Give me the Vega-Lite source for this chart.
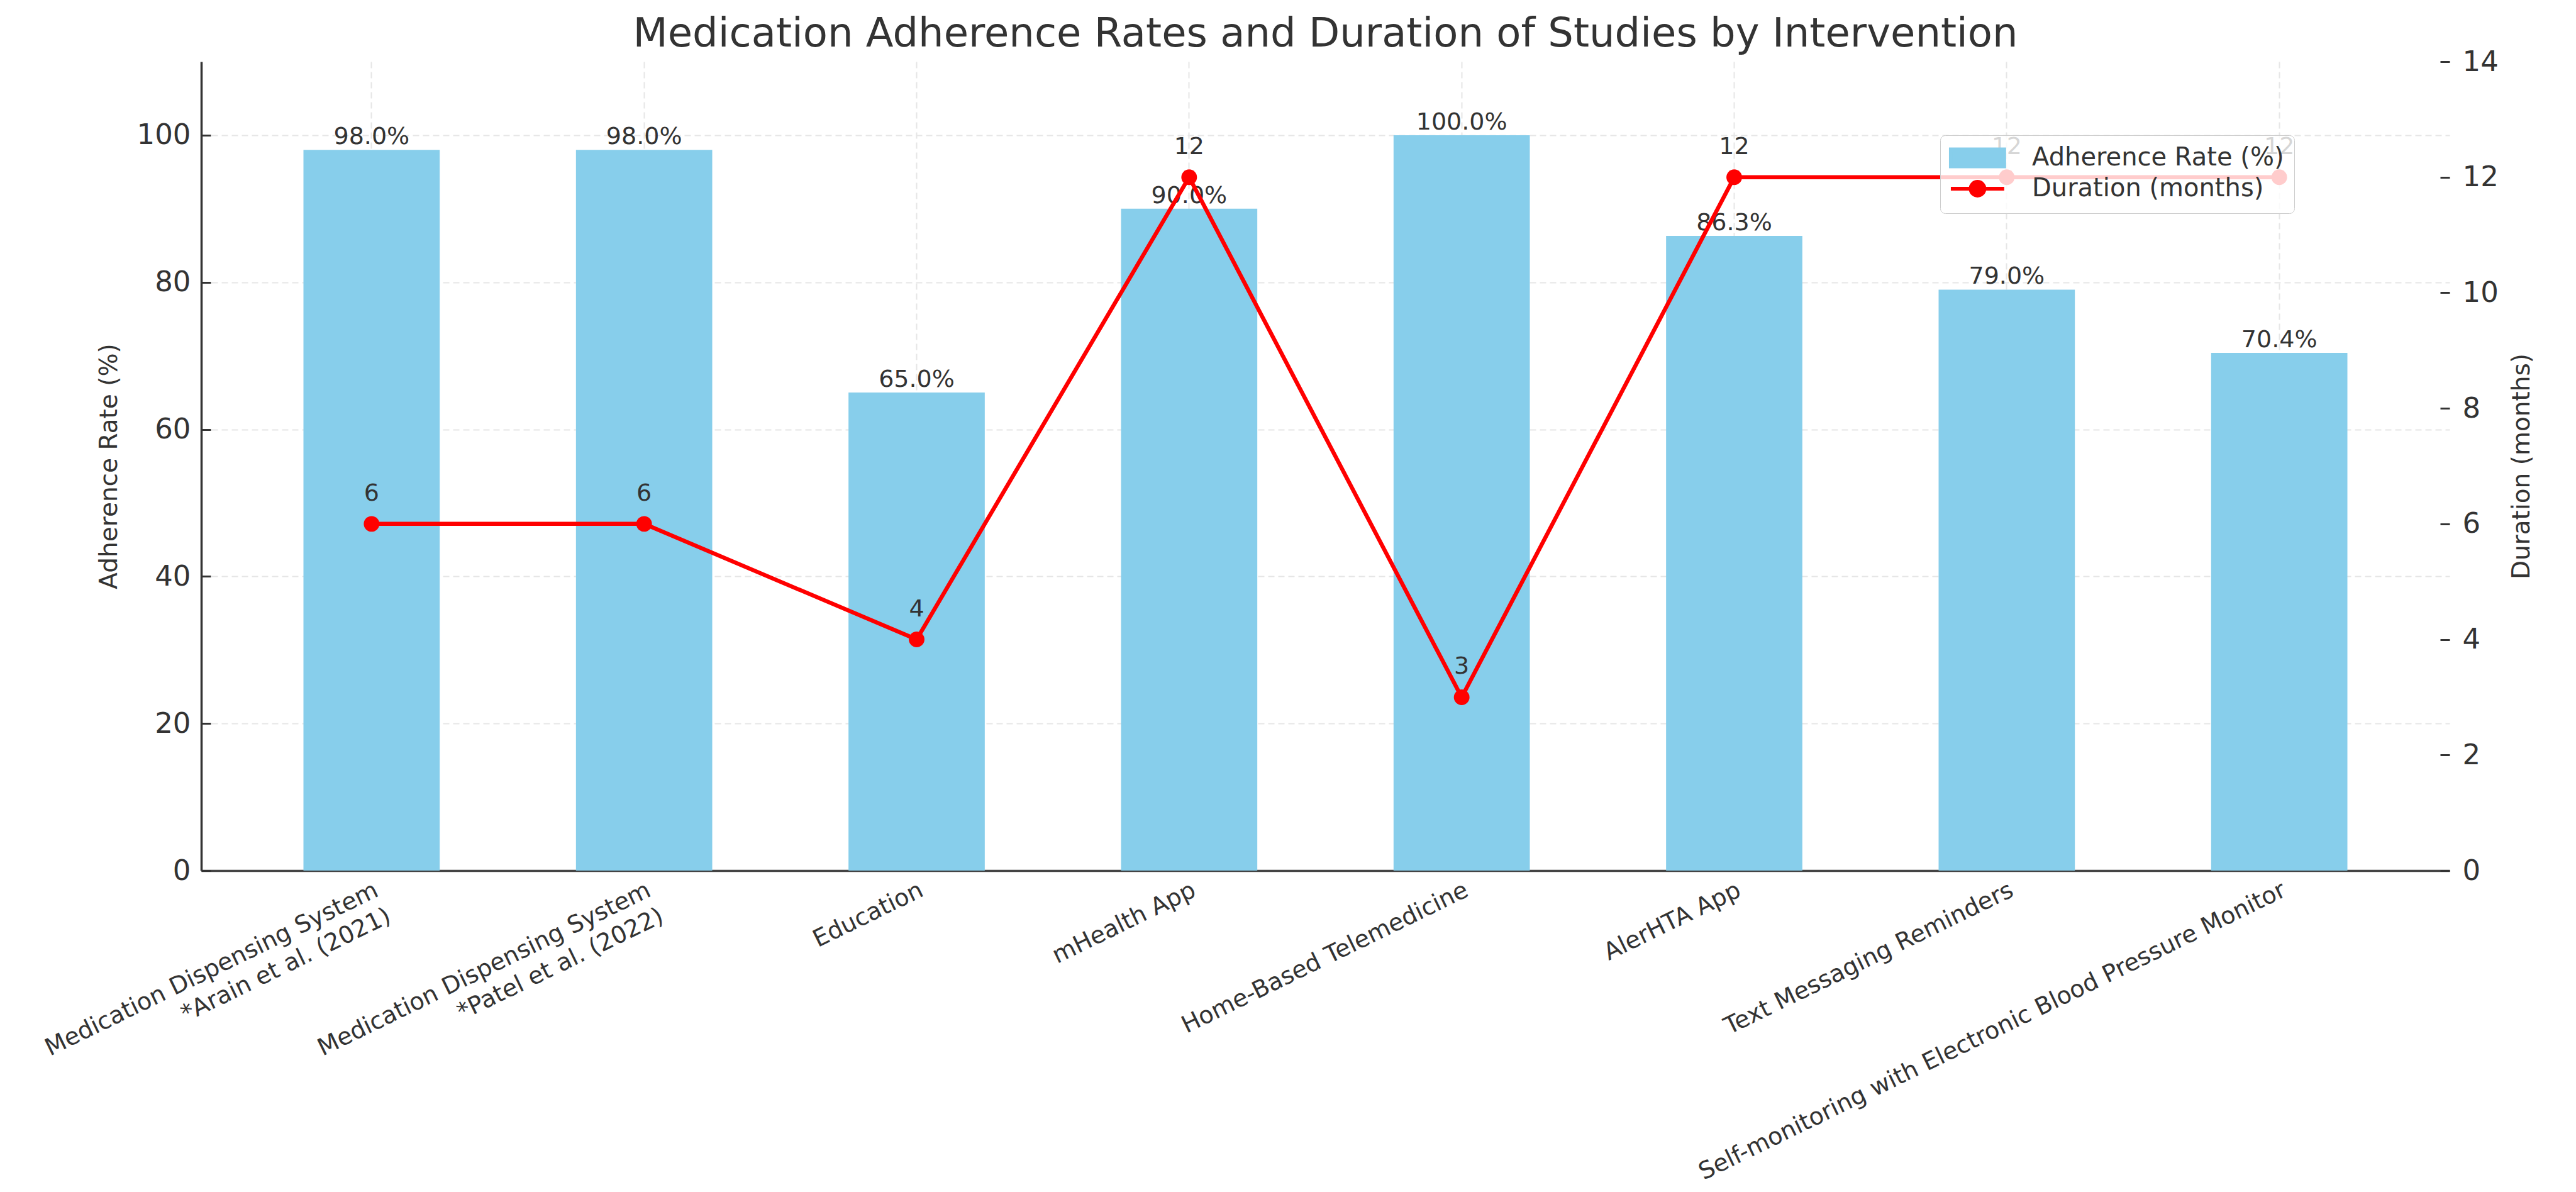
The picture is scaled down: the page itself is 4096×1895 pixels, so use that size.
{
  "$schema": "https://vega.github.io/schema/vega-lite/v6.json",
  "width": 3575,
  "height": 1286,
  "autosize": {"type": "none"},
  "padding": {"left": 320, "top": 98, "right": 201, "bottom": 511},
  "background": "white",
  "title": {
    "text": "Medication Adherence Rates and Duration of Studies by Intervention",
    "fontSize": 64,
    "font": "DejaVu Sans",
    "fontWeight": "normal",
    "color": "#333333",
    "anchor": "middle",
    "frame": "group",
    "baseline": "alphabetic",
    "offset": 20,
    "dy": 82
  },
  "config": {
    "view": {"stroke": null},
    "font": "DejaVu Sans"
  },
  "data": {
    "values": [
      {"intervention": "Medication Dispensing System\n*Arain et al. (2021)", "adherence": 98.0, "duration": 6},
      {"intervention": "Medication Dispensing System\n*Patel et al. (2022)", "adherence": 98.0, "duration": 6},
      {"intervention": "Education", "adherence": 65.0, "duration": 4},
      {"intervention": "mHealth App", "adherence": 90.0, "duration": 12},
      {"intervention": "Home-Based Telemedicine", "adherence": 100.0, "duration": 3},
      {"intervention": "AlerHTA App", "adherence": 86.3, "duration": 12},
      {"intervention": "Text Messaging Reminders", "adherence": 79.0, "duration": 12},
      {"intervention": "Self-monitoring with Electronic Blood Pressure Monitor", "adherence": 70.4, "duration": 12}
    ]
  },
  "encoding": {
    "x": {
      "field": "intervention",
      "type": "nominal",
      "sort": null,
      "scale": {"paddingInner": 0.5, "paddingOuter": 0.375},
      "axis": {
        "title": null,
        "labelAngle": -26,
        "labelAlign": "right",
        "labelBaseline": "top",
        "labelFontSize": 38,
        "labelColor": "#333333",
        "labelLimit": 0,
        "labelOverlap": false,
        "labelFlush": false,
        "labelLineHeight": 46,
        "labelExpr": "split(datum.label, '\\n')",
        "labelPadding": 28,
        "tickSize": -16,
        "tickWidth": 3,
        "tickColor": "#333333",
        "domainColor": "#444444",
        "domainWidth": 3.5,
        "grid": true,
        "gridColor": "#e6e6e6",
        "gridDash": [10, 6],
        "gridWidth": 2
      }
    }
  },
  "layer": [
    {
      "encoding": {
        "y": {
          "field": "adherence",
          "type": "quantitative",
          "scale": {"domain": [0, 110], "nice": false},
          "axis": {
            "values": [0, 20, 40, 60, 80, 100],
            "title": "Adherence Rate (%)",
            "titleFontSize": 39,
            "titleFontWeight": "normal",
            "titleColor": "#333333",
            "titlePadding": 24,
            "labelFontSize": 45,
            "labelColor": "#333333",
            "labelPadding": 32,
            "tickSize": -15,
            "tickWidth": 3,
            "tickColor": "#333333",
            "domainColor": "#333333",
            "domainWidth": 3.5,
            "grid": true,
            "gridColor": "#e6e6e6",
            "gridDash": [10, 6],
            "gridWidth": 2
          }
        }
      },
      "layer": [
        {
          "mark": {"type": "bar"},
          "encoding": {
            "color": {
              "datum": "Adherence Rate (%)",
              "scale": {
                "domain": ["Adherence Rate (%)", "Duration (months)"],
                "range": ["#87CEEB", "#ff0000"]
              },
              "legend": {
                "orient": "none",
                "legendX": 2765,
                "legendY": 117,
                "title": null,
                "labelFontSize": 40,
                "labelColor": "#333333",
                "labelFont": "DejaVu Sans",
                "labelLimit": 0,
                "fillColor": "rgba(255,255,255,0.8)",
                "strokeColor": "#cccccc",
                "cornerRadius": 8,
                "padding": 16,
                "rowPadding": 0,
                "labelOffset": 90,
                "symbolSize": 900,
                "symbolStrokeWidth": 6,
                "encode": {
                  "symbols": {
                    "update": {
                      "shape": {"signal": "datum.value === 'Duration (months)' ? 'M-1.27,0L4.39,0M0.83,0A0.73,0.73,0,1,1,2.29,0A0.73,0.73,0,1,1,0.83,0Z' : 'M-1.27,-0.9L4.39,-0.9L4.39,0.9L-1.27,0.9Z'"},
                      "fill": {"signal": "datum.value === 'Duration (months)' ? '#ff0000' : '#87CEEB'"},
                      "stroke": {"signal": "datum.value === 'Duration (months)' ? '#ff0000' : 'transparent'"},
                      "strokeWidth": {"value": 6},
                      "opacity": {"value": 1},
                      "fillOpacity": {"value": 1},
                      "strokeOpacity": {"value": 1}
                    }
                  }
                }
              }
            }
          }
        },
        {
          "transform": [
            {"calculate": "format(datum.adherence, '.1f') + '%'", "as": "adh_label"}
          ],
          "mark": {"type": "text", "baseline": "bottom", "fontSize": 38, "color": "#333333", "dy": -1},
          "encoding": {
            "text": {"field": "adh_label", "type": "nominal"}
          }
        }
      ]
    },
    {
      "encoding": {
        "y": {
          "field": "duration",
          "type": "quantitative",
          "scale": {"domain": [0, 14], "nice": false},
          "axis": {
            "orient": "right",
            "values": [0, 2, 4, 6, 8, 10, 12, 14],
            "title": "Duration (months)",
            "titleAngle": -90,
            "titleBaseline": "top",
            "titleFontSize": 39,
            "titleFontWeight": "normal",
            "titleColor": "#333333",
            "titlePadding": 18,
            "labelFontSize": 45,
            "labelColor": "#333333",
            "labelPadding": 35,
            "tickSize": -15,
            "tickWidth": 3,
            "tickColor": "#333333",
            "domain": false,
            "grid": false
          }
        }
      },
      "layer": [
        {
          "mark": {"type": "line", "strokeWidth": 6.5, "point": {"filled": true, "size": 620}},
          "encoding": {
            "color": {"datum": "Duration (months)"}
          }
        },
        {
          "mark": {"type": "text", "baseline": "middle", "dy": -48, "fontSize": 38, "color": "#333333"},
          "encoding": {
            "text": {"field": "duration", "type": "quantitative"}
          }
        }
      ]
    }
  ],
  "resolve": {"scale": {"y": "independent"}}
}
